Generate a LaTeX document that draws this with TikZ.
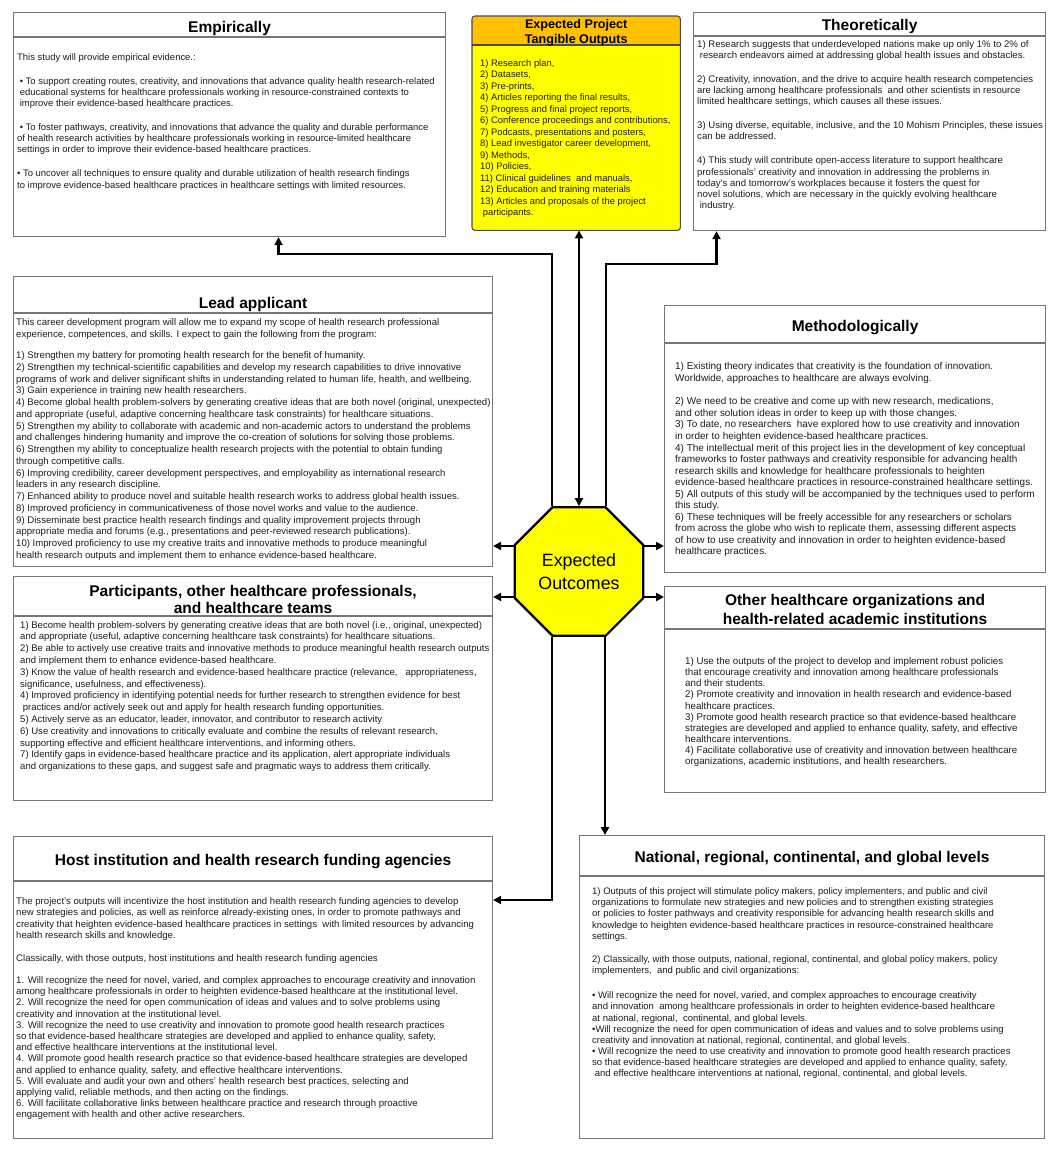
\documentclass[tikz,border=0pt]{standalone}
\usepackage{fontspec}
\setmainfont{Liberation Sans}
\usetikzlibrary{arrows.meta,shapes.geometric,calc}
\definecolor{boxline}{RGB}{118,118,118}
\definecolor{txt}{RGB}{30,30,30}
\definecolor{hdrorange}{RGB}{255,192,0}
\definecolor{ylw}{RGB}{255,255,0}
\tikzset{
  boxframe/.style={draw=boxline, line width=1.1pt, rectangle, inner sep=0pt, anchor=north west, fill=white},
  divline/.style={draw=boxline, line width=1.1pt},
  titletext/.style={font=\bfseries\fontsize{15.5}{16.7}\selectfont, text=black, inner sep=0pt, anchor=north, align=center},
  bodytext/.style={text=txt, inner sep=0pt, anchor=north west, align=left},
  connector/.style={draw=black, line width=2.6pt, -{Triangle[length=8pt,width=8pt]}},
}
\begin{document}
\begin{tikzpicture}[x=1pt,y=-1pt]
\fill[white] (0,0) rectangle (1058,1151);
\useasboundingbox (0,0) rectangle (1058,1151);

% ---------- Empirically
\node[boxframe, minimum width=432pt, minimum height=224pt] (emp) at (13,12) {};
\draw[divline] ($(emp.north west)+(0,25)$) -- ($(emp.north east)+(0,25)$);
\node[titletext] (empT) at ($(emp.north)+(0,8.9)$) {Empirically};
\node[bodytext, font=\fontsize{9.45}{11.1}\selectfont] (empB) at (17,53.2) {%
This study will provide empirical evidence.:\\[13pt]
\hspace*{2.6pt}• To support creating routes, creativity, and innovations that advance quality health research-related\\
\hspace*{2.6pt}educational systems for healthcare professionals working in resource-constrained contexts to\\
\hspace*{2.6pt}improve their evidence-based healthcare practices.\\[13pt]
\hspace*{2.6pt}• To foster pathways, creativity, and innovations that advance the quality and durable performance\\
of health research activities by healthcare professionals working in resource-limited healthcare\\
settings in order to improve their evidence-based healthcare practices.\\[13pt]
• To uncover all techniques to ensure quality and durable utilization of health research findings\\
to improve evidence-based healthcare practices in healthcare settings with limited resources.};

% ---------- Expected Project Tangible Outputs
\node[rectangle, inner sep=0pt, anchor=north west, fill=ylw, rounded corners=3pt, minimum width=208pt, minimum height=214pt] (out) at (472,16) {};
\begin{scope}
\clip[rounded corners=3pt] (out.north west) rectangle (out.south east);
\fill[hdrorange] (out.north west) rectangle ($(out.north east)+(0,29)$);
\end{scope}
\draw[draw=black!70, line width=1.1pt, rounded corners=3pt] (out.north west) rectangle (out.south east);
\draw[draw=black!70, line width=1.1pt] ($(out.north west)+(0,29)$) -- ($(out.north east)+(0,29)$);
\node[titletext, font=\bfseries\fontsize{12.6}{15.3}\selectfont] (outT) at ($(out.north)+(0,3.3)$) {Expected Project\\Tangible Outputs};
\node[bodytext, font=\fontsize{9.4}{11.5}\selectfont] (outB) at (480,59.2) {%
1) Research plan,\\
2) Datasets,\\
3) Pre-prints,\\
4) Articles reporting the final results,\\
5) Progress and final project reports,\\
6) Conference proceedings and contributions,\\
7) Podcasts, presentations and posters,\\
8) Lead investigator career development,\\
9) Methods,\\
10) Policies,\\
11) Clinical guidelines\ \ and manuals,\\
12) Education and training materials\\
13) Articles and proposals of the project\\
\hspace*{2.6pt}participants.};

% ---------- Theoretically
\node[boxframe, minimum width=352pt, minimum height=218pt] (theo) at (693,12) {};
\draw[divline] ($(theo.north west)+(0,24)$) -- ($(theo.north east)+(0,24)$);
\node[titletext] (theoT) at ($(theo.north)+(0,7.2)$) {Theoretically};
\node[bodytext, font=\fontsize{9.6}{11.1}\selectfont] (theoB) at (697,40.1) {%
1) Research suggests that underdeveloped nations make up only 1\% to 2\% of\\
\hspace*{2.6pt}research endeavors aimed at addressing global health issues and obstacles.\\[13pt]
2) Creativity, innovation, and the drive to acquire health research competencies\\
are lacking among healthcare professionals\ \ and other scientists in resource\\
limited healthcare settings, which causes all these issues.\\[13pt]
3) Using diverse, equitable, inclusive, and the 10 Mohism Principles, these issues\\
can be addressed.\\[13pt]
4) This study will contribute open-access literature to support healthcare\\
professionals' creativity and innovation in addressing the problems in\\
today's and tomorrow's workplaces because it fosters the quest for\\
novel solutions, which are necessary in the quickly evolving healthcare\\
\hspace*{2.6pt}industry.};

% ---------- Lead applicant
\node[boxframe, minimum width=479pt, minimum height=290pt] (lead) at (13,276) {};
\draw[divline] ($(lead.north west)+(0,37)$) -- ($(lead.north east)+(0,37)$);
\node[titletext] (leadT) at ($(lead.north)+(0,20.9)$) {Lead applicant};
\node[bodytext, font=\fontsize{9.6}{11.75}\selectfont] (leadB) at (16,318.6) {%
This career development program will allow me to expand my scope of health research professional\\
experience, competences, and skills. I expect to gain the following from the program:\\[9.3pt]
1) Strengthen my battery for promoting health research for the benefit of humanity.\\
2) Strengthen my technical-scientific capabilities and develop my research capabilities to drive innovative\\
programs of work and deliver significant shifts in understanding related to human life, health, and wellbeing.\\
3) Gain experience in training new health researchers.\\
4) Become global health problem-solvers by generating creative ideas that are both novel (original, unexpected)\\
and appropriate (useful, adaptive concerning healthcare task constraints) for healthcare situations.\\
5) Strengthen my ability to collaborate with academic and non-academic actors to understand the problems\\
and challenges hindering humanity and improve the co-creation of solutions for solving those problems.\\
6) Strengthen my ability to conceptualize health research projects with the potential to obtain funding\\
through competitive calls.\\
6) Improving credibility, career development perspectives, and employability as international research\\
leaders in any research discipline.\\
7) Enhanced ability to produce novel and suitable health research works to address global health issues.\\
8) Improved proficiency in communicativeness of those novel works and value to the audience.\\
9) Disseminate best practice health research findings and quality improvement projects through\\
appropriate media and forums (e.g., presentations and peer-reviewed research publications).\\
10) Improved proficiency to use my creative traits and innovative methods to produce meaningful\\
health research outputs and implement them to enhance evidence-based healthcare.};

% ---------- Methodologically
\node[boxframe, minimum width=381pt, minimum height=267pt] (meth) at (664,305) {};
\draw[divline] ($(meth.north west)+(0,38)$) -- ($(meth.north east)+(0,38)$);
\node[titletext] (methT) at ($(meth.north)+(0,15.2)$) {Methodologically};
\node[bodytext, font=\fontsize{9.95}{11.55}\selectfont] (methB) at (675,362.4) {%
1) Existing theory indicates that creativity is the foundation of innovation.\\
Worldwide, approaches to healthcare are always evolving.\\[11.9pt]
2) We need to be creative and come up with new research, medications,\\
and other solution ideas in order to keep up with those changes.\\
3) To date, no researchers\ \ have explored how to use creativity and innovation\\
in order to heighten evidence-based healthcare practices.\\
4) The intellectual merit of this project lies in the development of key conceptual\\
frameworks to foster pathways and creativity responsible for advancing health\\
research skills and knowledge for healthcare professionals to heighten\\
evidence-based healthcare practices in resource-constrained healthcare settings.\\
5) All outputs of this study will be accompanied by the techniques used to perform\\
this study.\\
6) These techniques will be freely accessible for any researchers or scholars\\
from across the globe who wish to replicate them, assessing different aspects\\
of how to use creativity and innovation in order to heighten evidence-based\\
healthcare practices.};

% ---------- Participants
\node[boxframe, minimum width=479pt, minimum height=224pt] (part) at (13,576) {};
\draw[divline] ($(part.north west)+(0,40)$) -- ($(part.north east)+(0,40)$);
\node[titletext] (partT) at ($(part.north)+(0,8.9)$) {Participants, other healthcare professionals,\\and healthcare teams};
\node[bodytext, font=\fontsize{9.55}{11.8}\selectfont] (partB) at (20,620.9) {%
1) Become health problem-solvers by generating creative ideas that are both novel (i.e., original, unexpected)\\
and appropriate (useful, adaptive concerning healthcare task constraints) for healthcare situations.\\
2) Be able to actively use creative traits and innovative methods to produce meaningful health research outputs\\
and implement them to enhance evidence-based healthcare.\\
3) Know the value of health research and evidence-based healthcare practice (relevance,\ \ \ appropriateness,\\
significance, usefulness, and effectiveness).\\
4) Improved proficiency in identifying potential needs for further research to strengthen evidence for best\\
\hspace*{2.6pt}practices and/or actively seek out and apply for health research funding opportunities.\\
5) Actively serve as an educator, leader, innovator, and contributor to research activity\\
6) Use creativity and innovations to critically evaluate and combine the results of relevant research,\\
supporting effective and efficient healthcare interventions, and informing others.\\
7) Identify gaps in evidence-based healthcare practice and its application, alert appropriate individuals\\
and organizations to these gaps, and suggest safe and pragmatic ways to address them critically.};

% ---------- Other healthcare organizations
\node[boxframe, minimum width=381pt, minimum height=206pt] (orgs) at (664,586) {};
\draw[divline] ($(orgs.north west)+(0,43)$) -- ($(orgs.north east)+(0,43)$);
\node[titletext, font=\bfseries\fontsize{15.5}{19.3}\selectfont] (orgsT) at ($(orgs.north)+(0,8.2)$) {Other healthcare organizations and\\health-related academic institutions};
\node[bodytext, font=\fontsize{9.75}{11.1}\selectfont] (orgsB) at (685,657.4) {%
1) Use the outputs of the project to develop and implement robust policies\\
that encourage creativity and innovation among healthcare professionals\\
and their students.\\
2) Promote creativity and innovation in health research and evidence-based\\
healthcare practices.\\
3) Promote good health research practice so that evidence-based healthcare\\
strategies are developed and applied to enhance quality, safety, and effective\\
healthcare interventions.\\
4) Facilitate collaborative use of creativity and innovation between healthcare\\
organizations, academic institutions, and health researchers.};

% ---------- Host institution
\node[boxframe, minimum width=479pt, minimum height=302pt] (host) at (13,836) {};
\draw[divline] ($(host.north west)+(0,45)$) -- ($(host.north east)+(0,45)$);
\node[titletext] (hostT) at ($(host.north)+(0,18.2)$) {Host institution and health research funding agencies};
\node[bodytext, font=\fontsize{9.6}{11.2}\selectfont] (hostB) at (16,897.6) {%
The project's outputs will incentivize the host institution and health research funding agencies to develop\\
new strategies and policies, as well as reinforce already-existing ones, in order to promote pathways and\\
creativity that heighten evidence-based healthcare practices in settings\ \ with limited resources by advancing\\
health research skills and knowledge.\\[12.2pt]
Classically, with those outputs, host institutions and health research funding agencies\\[10.5pt]
1. Will recognize the need for novel, varied, and complex approaches to encourage creativity and innovation\\
among healthcare professionals in order to heighten evidence-based healthcare at the institutional level.\\
2. Will recognize the need for open communication of ideas and values and to solve problems using\\
creativity and innovation at the institutional level.\\
3. Will recognize the need to use creativity and innovation to promote good health research practices\\
so that evidence-based healthcare strategies are developed and applied to enhance quality, safety,\\
and effective healthcare interventions at the institutional level.\\
4. Will promote good health research practice so that evidence-based healthcare strategies are developed\\
and applied to enhance quality, safety, and effective healthcare interventions.\\
5. Will evaluate and audit your own and others’ health research best practices, selecting and\\
applying valid, reliable methods, and then acting on the findings.\\
6. Will facilitate collaborative links between healthcare practice and research through proactive\\
engagement with health and other active researchers.};

% ---------- National
\node[boxframe, minimum width=465pt, minimum height=303pt] (nat) at (579,835) {};
\draw[divline] ($(nat.north west)+(0,41)$) -- ($(nat.north east)+(0,41)$);
\node[titletext] (natT) at ($(nat.north)+(0,15.9)$) {National, regional, continental, and global levels};
\node[bodytext, font=\fontsize{9.5}{11.15}\selectfont] (natB) at (592,887.6) {%
1) Outputs of this project will stimulate policy makers, policy implementers, and public and civil\\
organizations to formulate new strategies and new policies and to strengthen existing strategies\\
or policies to foster pathways and creativity responsible for advancing health research skills and\\
knowledge to heighten evidence-based healthcare practices in resource-constrained healthcare\\
settings.\\[12.2pt]
2) Classically, with those outputs, national, regional, continental, and global policy makers, policy\\
implementers,\ \ and public and civil organizations:\\[13.8pt]
• Will recognize the need for novel, varied, and complex approaches to encourage creativity\\
and innovation\ \ among healthcare professionals in order to heighten evidence-based healthcare\\
at national, regional,\ \ continental, and global levels.\\
•Will recognize the need for open communication of ideas and values and to solve problems using\\
creativity and innovation at national, regional, continental, and global levels.\\
• Will recognize the need to use creativity and innovation to promote good health research practices\\
so that evidence-based healthcare strategies are developed and applied to enhance quality, safety,\\
\hspace*{2.6pt}and effective healthcare interventions at national, regional, continental, and global levels.};

% ---------- Central octagon
\node[regular polygon, regular polygon sides=8, minimum size=139pt, inner sep=0pt,
      fill=ylw, draw=black, line width=2.2pt, align=center,
      font=\fontsize{17.8}{23}\selectfont] (oct) at (579,571.5) {Expected\\Outcomes};

\coordinate (tl) at ($(oct.north)+(-27,0)$);
\coordinate (tr) at ($(oct.north)+(27,0)$);
\coordinate (bl) at ($(oct.south)+(-27,0)$);
\coordinate (br) at ($(oct.south)+(26,0)$);
\coordinate (lu) at ($(oct.west)+(0,-25.5)$);
\coordinate (ld) at ($(oct.west)+(0,25.5)$);
\coordinate (ru) at ($(oct.east)+(0,-25.5)$);
\coordinate (rd) at ($(oct.east)+(0,25.5)$);

% ---------- Connectors
\draw[connector, {Triangle[length=8pt,width=8pt]}-{Triangle[length=8pt,width=8pt]}] (oct.north) -- (oct.north |- out.south);
\draw[connector] (tl) |- ($(emp.south)+(49,17)$) -- ($(emp.south)+(49,0)$);
\draw[connector] (tr) |- ($(theo.south)+(-153,33)$) -- ($(theo.south)+(-153,0)$);
\draw[connector] (lu) -- (lu -| lead.east);
\draw[connector] (ld) -- (ld -| part.east);
\draw[connector] (ru) -- (ru -| meth.west);
\draw[connector] (rd) -- (rd -| orgs.west);
\draw[connector] (bl) |- ($(host.north east)+(0,64)$);
\draw[connector] (br) -- (br |- nat.north);
\end{tikzpicture}
\end{document}
